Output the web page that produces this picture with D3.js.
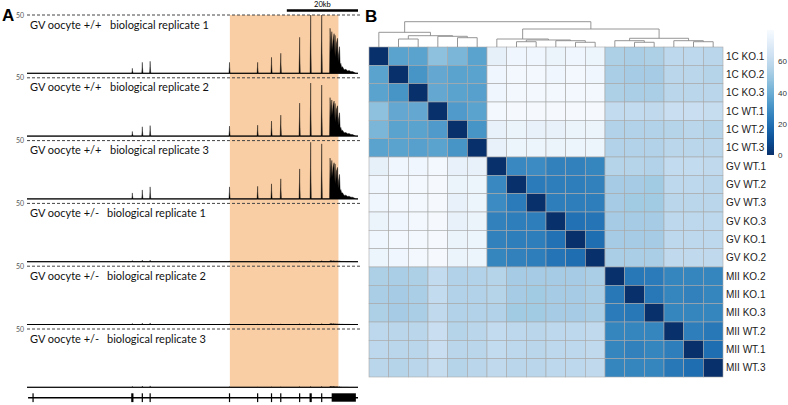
<!DOCTYPE html>
<html><head><meta charset="utf-8">
<script src="https://cdn.jsdelivr.net/npm/d3@7"></script>
<style>html,body{margin:0;padding:0;background:#fff;}svg{display:block;}</style>
</head><body>
<svg id="c" width="788" height="405"></svg>
<script>
// ---------------- DATA ----------------
// Panel A : genomic tracks (x in kb, y in read coverage, scale 0-50)
const genomeKb = [0, 93];
const highlightKb = [57.0, 87.5];
const scaleBarKb = [73, 93];
const trackGenotype = ["GV oocyte +/+", "GV oocyte +/+", "GV oocyte +/+", "GV oocyte +/-", "GV oocyte +/-", "GV oocyte +/-"];
const trackReplicate = ["biological replicate 1", "biological replicate 2", "biological replicate 3", "biological replicate 1", "biological replicate 2", "biological replicate 3"];
const trackMax = 50;
const peakKb = [29.6, 32.4, 34.6, 56.9, 64.8, 68.7, 71.3, 76.6, 79.7, 82.8];
const peaksWT1 = [4.3, 9.4, 10.3, 9.4, 9.4, 13.7, 17.2, 30.9, 50, 50];
const peaksWT2 = [4.0, 8.0, 9.0, 8.6, 9.4, 12.9, 18.0, 28.3, 45.5, 43.8];
const peaksWT3 = [5.1, 7.7, 10.3, 10.3, 10.8, 12.9, 17.2, 25.7, 48.6, 47.2];
const peaksHet1 = [1.0, 1.4, 1.4, 0.6, 0.4, 0.5, 0.5, 0.7, 0.9, 0.9];
const peaksHet2 = [0.9, 1.2, 1.3, 0.5, 0.4, 0.5, 0.5, 0.6, 0.8, 0.8];
const peaksHet3 = [0.8, 1.1, 1.2, 0.5, 0.3, 0.4, 0.4, 0.6, 0.7, 0.8];
const clusterKb = [85.0, 85.15, 85.4, 85.63, 85.8, 86.0, 86.28, 86.4, 86.56, 86.75, 86.96, 87.24, 87.4, 87.52, 87.8, 88.0, 88.17, 88.4, 88.65, 89.1, 89.6, 90.06, 90.5, 91.0, 91.5, 91.9, 92.4];
const clusterWT1 = [0, 38.6, 18, 35.7, 20, 28, 34, 16, 32.6, 14, 25.7, 30, 10, 15.7, 22.8, 7, 8.6, 5, 5.7, 3, 3.5, 2, 2.5, 1.5, 1.5, 0.8, 0];
const clusterWT2 = [0, 33, 16, 31, 18, 26, 30, 14, 28, 12, 23, 26, 9, 14, 20, 6, 7.5, 4.5, 5, 2.8, 3, 2, 2.2, 1.4, 1.3, 0.7, 0];
const clusterWT3 = [0, 35, 17, 33, 19, 27, 31, 15, 30, 13, 24, 27, 9, 15, 21, 6.5, 8, 5, 5.2, 3, 3.2, 2.1, 2.3, 1.5, 1.4, 0.8, 0];
const clusterHet1 = [0, 1.0, 0.5, 0.9, 0.6, 0.7, 0.8, 0.5, 0.7, 0.4, 0.6, 0.6, 0.3, 0.4, 0.5, 0.3, 0.3, 0.2, 0.2, 0.2, 0.1, 0.1, 0.1, 0.1, 0, 0, 0];
const clusterHet2 = [0, 0.9, 0.4, 0.8, 0.5, 0.6, 0.7, 0.4, 0.6, 0.4, 0.5, 0.5, 0.3, 0.3, 0.4, 0.2, 0.2, 0.2, 0.2, 0.1, 0.1, 0.1, 0.1, 0, 0, 0, 0];
const clusterHet3 = [0, 0.8, 0.4, 0.7, 0.5, 0.6, 0.6, 0.4, 0.6, 0.3, 0.5, 0.5, 0.3, 0.3, 0.4, 0.2, 0.2, 0.2, 0.1, 0.1, 0.1, 0.1, 0, 0, 0, 0, 0];
const trackPeaks = [peaksWT1, peaksWT2, peaksWT3, peaksHet1, peaksHet2, peaksHet3];
const trackCluster = [clusterWT1, clusterWT2, clusterWT3, clusterHet1, clusterHet2, clusterHet3];
// gene model
const geneSpanKb = [0.3, 93];
const exonKb = [1.7, 29.6, 32.4, 34.6, 56.9, 64.8, 68.7, 71.3, 76.6, 79.7, 82.8];
const exonThick = [0, 1, 0, 0, 0, 0, 0, 0, 0, 1, 0];
const lastExonKb = [85.6, 92.4];

// Panel B : sample distance heatmap
const sampleNames = ["1C KO.1", "1C KO.2", "1C KO.3", "1C WT.1", "1C WT.2", "1C WT.3",
  "GV WT.1", "GV WT.2", "GV WT.3", "GV KO.3", "GV KO.1", "GV KO.2",
  "MII KO.2", "MII KO.1", "MII KO.3", "MII WT.2", "MII WT.1", "MII WT.3"];
const distances = [
  [0, 36, 36, 47, 43, 36, 73, 77, 77, 75, 77, 76, 54, 53, 54, 58, 58, 57],
  [36, 0, 31, 38, 36, 36, 77, 78, 78, 77, 78, 77, 53, 52, 52, 57, 57, 56],
  [36, 31, 0, 38, 36, 35, 77, 78, 78, 78, 78, 78, 54, 53, 53, 57, 57, 57],
  [47, 38, 38, 0, 33, 36, 78, 79, 79, 79, 79, 79, 60, 60, 59, 62, 62, 61],
  [43, 36, 36, 33, 0, 31, 74, 75, 74, 74, 75, 75, 55, 55, 55, 56, 57, 56],
  [36, 36, 35, 36, 31, 0, 74, 76, 76, 75, 76, 76, 55, 55, 55, 57, 57, 57],
  [73, 77, 77, 78, 74, 74, 0, 27, 28, 25, 25, 26, 56, 56, 55, 60, 60, 59],
  [77, 78, 78, 79, 75, 76, 27, 0, 23, 24, 24, 25, 52, 52, 51, 58, 58, 57],
  [77, 78, 78, 79, 74, 76, 28, 23, 0, 24, 24, 24, 52, 51, 51, 57, 57, 57],
  [75, 77, 78, 79, 74, 75, 25, 24, 24, 0, 20, 21, 52, 52, 52, 58, 58, 58],
  [77, 78, 78, 79, 75, 76, 25, 24, 24, 20, 0, 19, 52, 52, 52, 58, 58, 58],
  [76, 77, 78, 79, 75, 76, 26, 25, 24, 21, 19, 0, 53, 53, 53, 59, 59, 59],
  [54, 53, 54, 60, 55, 55, 56, 52, 52, 52, 52, 53, 0, 22, 23, 26, 26, 26],
  [53, 52, 53, 60, 55, 55, 56, 52, 51, 52, 52, 53, 22, 0, 22, 26, 25, 26],
  [54, 52, 53, 59, 55, 55, 55, 51, 51, 52, 52, 53, 23, 22, 0, 26, 26, 26],
  [58, 57, 57, 62, 56, 57, 60, 58, 57, 58, 58, 59, 26, 26, 26, 0, 24, 22],
  [58, 57, 57, 62, 57, 57, 60, 58, 57, 58, 58, 59, 26, 25, 26, 24, 0, 19],
  [57, 56, 57, 61, 56, 57, 59, 57, 57, 58, 58, 59, 26, 26, 26, 22, 19, 0]
];
// hclust-style merges (negative = leaf index+1 in display order, positive = merge number)
const mergeLeft  = [-2, -5, -4, 1, -1, -11, -10, -8, 8, -7, -14, -13, -17, -16, 12, 10, 5];
const mergeRight = [-3, -6, 2, 3, 4, -12, 6, -9, 7, 9, -15, 11, -18, 13, 14, 15, 16];
const mergeHeight = [31.6, 36.8, 42.3, 44.7, 58.1, 18.6, 24.9, 20.9, 27.7, 31.6, 18.6, 24.9, 20.9, 24.9, 34.4, 71.1, 100];
const colorMax = 80;
const legendTicks = [0, 20, 40, 60];

// ---------------- DRAW ----------------
const svg = d3.select("#c");

// ===== Panel A =====
const x = d3.scaleLinear().domain(genomeKb).range([27, 358]);
const trackTop0 = 15, trackStep = 62.8, trackH = 58.3;
const nTracks = trackGenotype.length;
const lastBase = trackTop0 + (nTracks - 1) * trackStep + trackH;

svg.append("text").attr("x", 2).attr("y", 21).attr("font-family", "Liberation Sans, Arial, sans-serif")
  .attr("font-weight", "bold").attr("font-size", 17).text("A");

// highlight
svg.append("rect").attr("x", x(highlightKb[0])).attr("y", trackTop0)
  .attr("width", x(highlightKb[1]) - x(highlightKb[0])).attr("height", lastBase - trackTop0)
  .attr("fill", "#f9cea4");

// scale bar
svg.append("line").attr("x1", x(scaleBarKb[0])).attr("x2", x(scaleBarKb[1])).attr("y1", 10.5).attr("y2", 10.5)
  .attr("stroke", "#000").attr("stroke-width", 2.4);
svg.append("text").attr("x", (x(scaleBarKb[0]) + x(scaleBarKb[1])) / 2).attr("y", 6.5).attr("text-anchor", "middle")
  .attr("font-family", "Lato, sans-serif").attr("font-size", 7.5).text("20kb");

for (let t = 0; t < nTracks; t++) {
  const top = trackTop0 + t * trackStep;
  const base = top + trackH;
  const y = d3.scaleLinear().domain([0, trackMax]).range([base, top]).clamp(true);
  // build signal points
  const pts = [];
  peakKb.forEach((p, i) => {
    const v = trackPeaks[t][i];
    pts.push([p - 0.16, 0], [p - 0.04, v * 0.6], [p, v], [p + 0.04, v * 0.55], [p + 0.18, 0]);
  });
  clusterKb.forEach((p, i) => pts.push([p, trackCluster[t][i]]));
  pts.sort((a, b) => a[0] - b[0]);
  const all = [[genomeKb[0], 0]].concat(pts, [[genomeKb[1], 0]]);
  const area = d3.area().x(d => x(d[0])).y0(base).y1(d => y(d[1]));
  svg.append("path").attr("d", area(all)).attr("fill", "#000").attr("stroke", "#000").attr("stroke-width", 0.4);
  // baseline
  svg.append("line").attr("x1", x(genomeKb[0])).attr("x2", x(genomeKb[1])).attr("y1", base).attr("y2", base)
    .attr("stroke", "#000").attr("stroke-width", 1);
  // dashed max line
  svg.append("line").attr("x1", 27).attr("x2", 361).attr("y1", y(trackMax)).attr("y2", y(trackMax))
    .attr("stroke", "#444").attr("stroke-width", 1).attr("stroke-dasharray", "3,2");
  svg.append("text").attr("x", 16).attr("y", y(trackMax) + 2.5).attr("font-family", "Lato, sans-serif")
    .attr("font-size", 7).attr("fill", "#555").text(String(trackMax));
  // labels
  svg.append("text").attr("x", 30).attr("y", top + 13.5).attr("font-family", "Lato, sans-serif")
    .attr("font-size", 11).attr("fill", "#111").text(trackGenotype[t]);
  svg.append("text").attr("x", t < 3 ? 110 : 107).attr("y", top + 13.5).attr("font-family", "Lato, sans-serif")
    .attr("font-size", 11).attr("fill", "#111").text(trackReplicate[t]);
}

// gene model
const geneY = 397.7;
svg.append("line").attr("x1", x(geneSpanKb[0])).attr("x2", x(geneSpanKb[1])).attr("y1", geneY).attr("y2", geneY)
  .attr("stroke", "#000").attr("stroke-width", 1.6);
svg.selectAll(".exon").data(exonKb).enter().append("rect")
  .attr("x", (d, i) => x(d) - (exonThick[i] ? 1.1 : 0.6)).attr("width", (d, i) => exonThick[i] ? 2.2 : 1.2)
  .attr("y", geneY - 4.4).attr("height", 8.8).attr("fill", "#000");
svg.append("rect").attr("x", x(lastExonKb[0])).attr("width", x(lastExonKb[1]) - x(lastExonKb[0]))
  .attr("y", geneY - 4.4).attr("height", 8.4).attr("fill", "#000");

// ===== Panel B =====
svg.append("text").attr("x", 365).attr("y", 22).attr("font-family", "Liberation Sans, Arial, sans-serif")
  .attr("font-weight", "bold").attr("font-size", 17).text("B");

const n = sampleNames.length;
const xb = d3.scaleBand().domain(d3.range(n)).range([369, 723]);
const yb = d3.scaleBand().domain(d3.range(n)).range([47, 377]);
const color = d3.scaleSequential(d3.interpolateBlues).domain([colorMax, 0]);

const cells = [];
distances.forEach((row, i) => row.forEach((v, j) => cells.push({ i, j, v })));
svg.append("g").selectAll("rect").data(cells).enter().append("rect")
  .attr("x", d => xb(d.j)).attr("y", d => yb(d.i))
  .attr("width", xb.bandwidth()).attr("height", yb.bandwidth())
  .attr("fill", d => color(d.v)).attr("stroke", "#a8a8a8").attr("stroke-width", 0.6);

svg.append("g").selectAll("text").data(sampleNames).enter().append("text")
  .attr("x", 726).attr("y", (d, i) => yb(i) + yb.bandwidth() / 2 + 3.6)
  .attr("font-family", "Liberation Sans, Arial, sans-serif").attr("font-size", 10).attr("fill", "#1a1a1a")
  .text(d => d);

// dendrogram
const dy = d3.scaleLinear().domain([0, 100]).range([47, 21.7]);
const nodeX = [], nodeH = [];
function pos(ref) {
  if (ref < 0) return { x: xb(-ref - 1) + xb.bandwidth() / 2, h: 0 };
  return { x: nodeX[ref - 1], h: nodeH[ref - 1] };
}
const dg = svg.append("g").attr("fill", "none").attr("stroke", "#8a8a8a").attr("stroke-width", 0.9);
mergeHeight.forEach((h, k) => {
  const a = pos(mergeLeft[k]), b = pos(mergeRight[k]);
  nodeX[k] = (a.x + b.x) / 2; nodeH[k] = h;
  dg.append("path").attr("d", `M${a.x},${dy(a.h)}V${dy(h)}H${b.x}V${dy(b.h)}`);
});

// colour legend
const ly = d3.scaleLinear().domain([0, colorMax]).range([155, 30]);
const defs = svg.append("defs");
const grad = defs.append("linearGradient").attr("id", "lg").attr("x1", 0).attr("x2", 0).attr("y1", 1).attr("y2", 0);
d3.range(0, 1.0001, 0.1).forEach(s => grad.append("stop").attr("offset", s).attr("stop-color", color(s * colorMax)));
svg.append("rect").attr("x", 767).attr("y", ly(colorMax)).attr("width", 7).attr("height", ly(0) - ly(colorMax))
  .attr("fill", "url(#lg)");
const ax = svg.append("g").attr("transform", "translate(776,0)")
  .call(d3.axisRight(ly).tickValues(legendTicks).tickSize(0).tickPadding(2));
ax.select(".domain").remove();
ax.selectAll("text").attr("font-family", "Liberation Sans, Arial, sans-serif").attr("font-size", 8).attr("fill", "#333");
</script>
</body></html>
